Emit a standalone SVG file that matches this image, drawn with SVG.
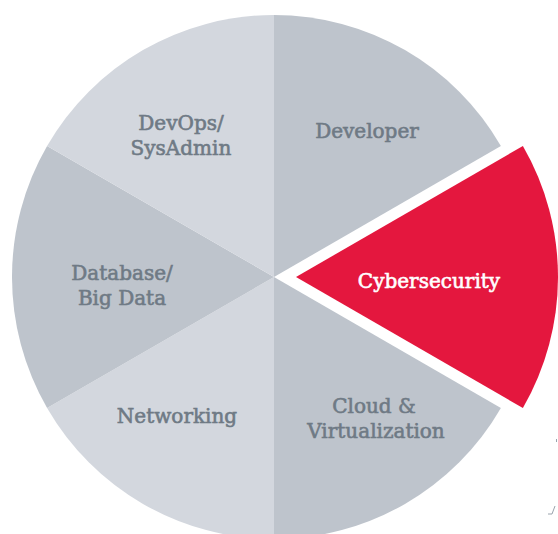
<svg xmlns="http://www.w3.org/2000/svg" width="558" height="534" viewBox="0 0 558 534">
<style>
.light{fill:#d3d7de}
.dark{fill:#bec4cc}
.red{fill:#e4173e}
.lbl{font-family:"DejaVu Serif","Liberation Serif",serif;font-size:20px;fill:#6f7a85;text-anchor:middle;stroke:#6f7a85;stroke-width:0.6}
.lblw{font-family:"DejaVu Serif","Liberation Serif",serif;font-size:20px;fill:#ffffff;text-anchor:middle;stroke:#ffffff;stroke-width:0.6}
</style>
<rect width="558" height="534" fill="#ffffff"/>
<g id="developer">
<path class="dark" d="M274,277 L274,15 A262,262 0 0 1 500.9,146 Z"/>
<text class="lbl" x="367" y="138">Developer</text>
</g>
<g id="cybersecurity">
<path class="red" d="M296,277 L522.9,146 A262,262 0 0 1 522.9,408 Z"/>
<text class="lblw" x="429" y="288">Cybersecurity</text>
</g>
<g id="cloud">
<path class="dark" d="M274,277 L500.9,408 A262,262 0 0 1 274,539 Z"/>
<text class="lbl" x="374" y="413">Cloud &amp;</text>
<text class="lbl" x="376" y="438">Virtualization</text>
</g>
<g id="networking">
<path class="light" d="M274,277 L274,539 A262,262 0 0 1 47.1,408 Z"/>
<text class="lbl" x="177" y="423">Networking</text>
</g>
<g id="database">
<path class="dark" d="M274,277 L47.1,408 A262,262 0 0 1 47.1,146 Z"/>
<text class="lbl" x="122" y="280">Database/</text>
<text class="lbl" x="122" y="305">Big Data</text>
</g>
<g id="devops">
<path class="light" d="M274,277 L47.1,146 A262,262 0 0 1 274,15 Z"/>
<text class="lbl" x="181" y="130">DevOps/</text>
<text class="lbl" x="181" y="155">SysAdmin</text>
</g>
<g id="connectors"/>
<g id="marks" fill="none" stroke="#9aa3ad" stroke-width="1">
<path d="M556.5,439 L556.5,442"/>
<path d="M555,506 L552,514 L548,514"/>
</g>
</svg>
